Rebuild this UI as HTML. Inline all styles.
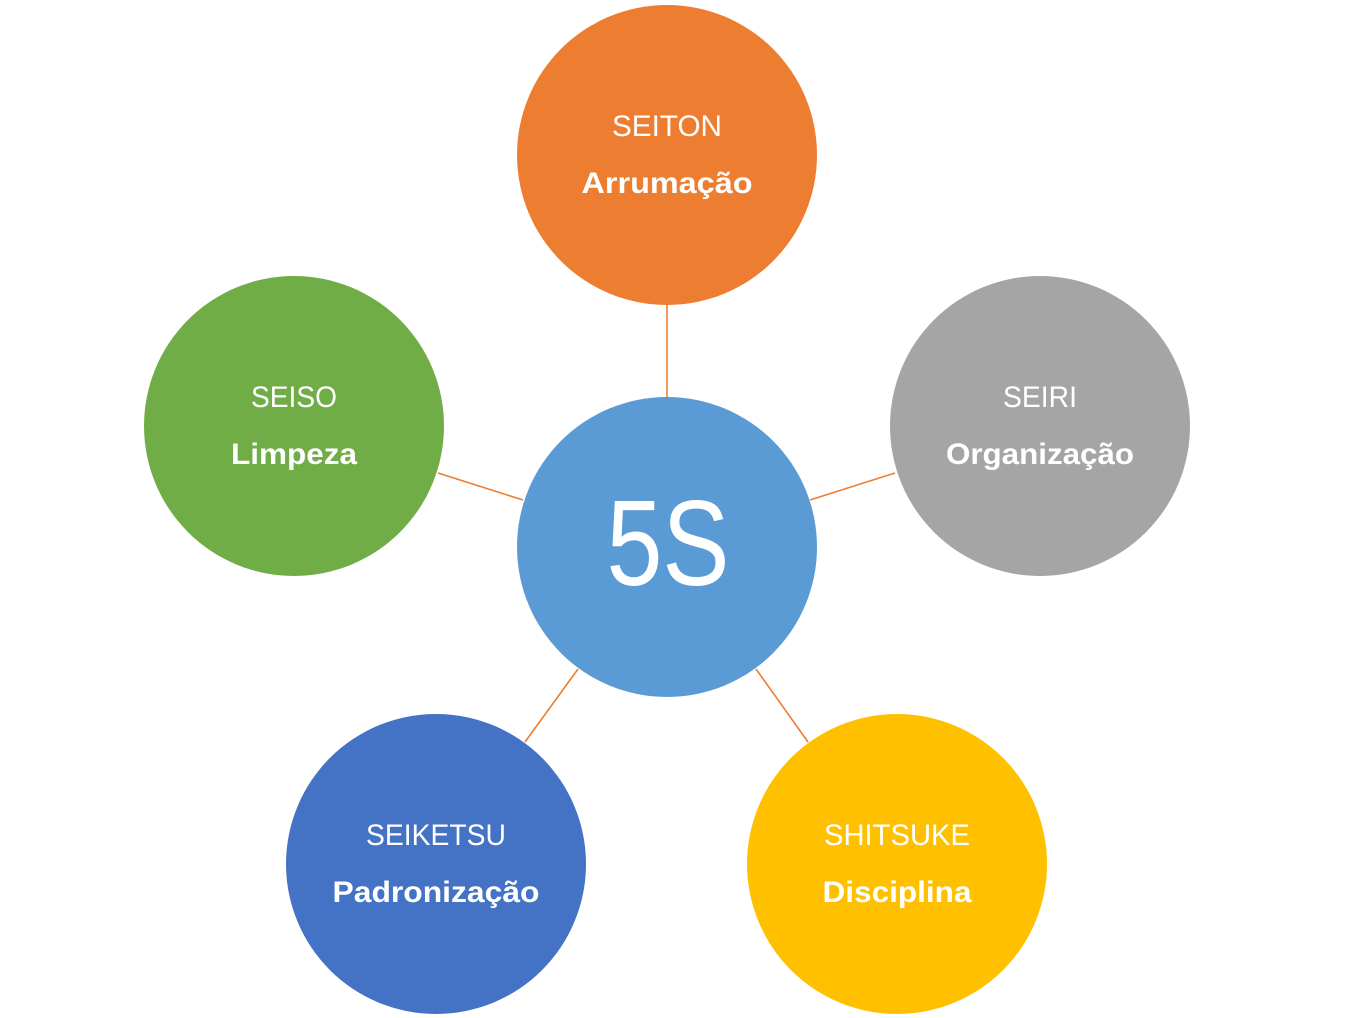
<!DOCTYPE html>
<html><head><meta charset="utf-8"><style>html,body{margin:0;padding:0;background:#fff}svg{display:block}</style></head>
<body>
<svg width="1356" height="1018" viewBox="0 0 1356 1018" xmlns="http://www.w3.org/2000/svg" font-family="Liberation Sans, sans-serif" fill="#fff">
<g stroke="#ED7D31" stroke-width="1.6">
<line x1="667" y1="305" x2="667" y2="397"/>
<line x1="438" y1="473" x2="523" y2="500"/>
<line x1="810" y1="500" x2="895" y2="473"/>
<line x1="578" y1="669" x2="525" y2="742"/>
<line x1="756" y1="669" x2="808" y2="742"/>
</g>
<circle cx="667" cy="155" r="150" fill="#ED7D31"/>
<circle cx="294" cy="426" r="150" fill="#70AD47"/>
<circle cx="1040" cy="426" r="150" fill="#A5A5A5"/>
<circle cx="667" cy="547" r="150" fill="#5B9BD5"/>
<circle cx="436" cy="864" r="150" fill="#4472C4"/>
<circle cx="897" cy="864" r="150" fill="#FFC000"/>
<g font-size="30" text-anchor="middle">
<text x="667" y="136" textLength="110" lengthAdjust="spacingAndGlyphs">SEITON</text>
<text x="667" y="193" font-weight="bold" textLength="171" lengthAdjust="spacingAndGlyphs">Arrumação</text>
<text x="294" y="407" textLength="86" lengthAdjust="spacingAndGlyphs">SEISO</text>
<text x="294" y="464" font-weight="bold" textLength="126" lengthAdjust="spacingAndGlyphs">Limpeza</text>
<text x="1040" y="407" textLength="74" lengthAdjust="spacingAndGlyphs">SEIRI</text>
<text x="1040" y="464" font-weight="bold" textLength="188" lengthAdjust="spacingAndGlyphs">Organização</text>
<text x="436" y="845" textLength="140" lengthAdjust="spacingAndGlyphs">SEIKETSU</text>
<text x="436" y="902" font-weight="bold" textLength="207" lengthAdjust="spacingAndGlyphs">Padronização</text>
<text x="897" y="845" textLength="146" lengthAdjust="spacingAndGlyphs">SHITSUKE</text>
<text x="897" y="902" font-weight="bold" textLength="149" lengthAdjust="spacingAndGlyphs">Disciplina</text>
<text x="668" y="585" font-size="122" textLength="123" lengthAdjust="spacingAndGlyphs">5S</text>
</g>
</svg>
</body></html>
